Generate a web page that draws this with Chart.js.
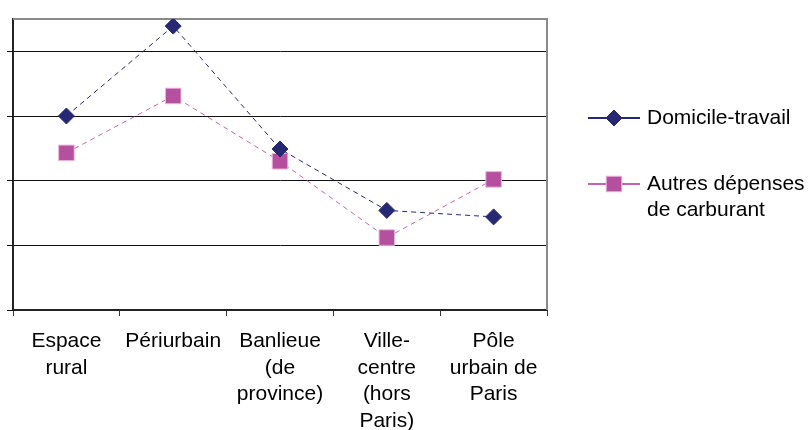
<!DOCTYPE html>
<html>
<head>
<meta charset="utf-8">
<script src="https://cdn.jsdelivr.net/npm/chart.js@4/dist/chart.umd.min.js"></script>
<style>
  html, body { margin: 0; padding: 0; background: #fff; }
  #wrap { width: 808px; height: 430px; position: relative; }
</style>
</head>
<body>
<div id="wrap"><canvas id="chart" width="808" height="430"></canvas></div>
<script>
// Categories (multi-line labels as drawn under the axis)
const categories = [
    ['Espace', 'rural'],
    ['Périurbain'],
    ['Banlieue', '(de', 'province)'],
    ['Ville-', 'centre', '(hors', 'Paris)'],
    ['Pôle', 'urbain de', 'Paris']
];

// Series values
const domicileTravail = [3.0, 4.39, 2.49, 1.54, 1.44];
const autresDepenses = [2.43, 3.31, 2.30, 1.12, 2.02];

const seriesNames = ['Domicile-travail', ['Autres dépenses', 'de carburant']];
const yTicks = [0, 1, 2, 3, 4];

const navy = '#272873';
const magenta = '#B5509F';

// Legend drawn on the right, outside the plot area
const sideLegend = {
    id: 'sideLegend',
    afterDraw(chart) {
        const ctx = chart.ctx;
        const rows = [
            { y: 118, ds: chart.data.datasets[0], text: seriesNames[0] },
            { y: 184, ds: chart.data.datasets[1], text: seriesNames[1] }
        ];
        ctx.save();
        rows.forEach(row => {
            ctx.strokeStyle = row.ds.borderColor;
            ctx.lineWidth = 2;
            ctx.setLineDash([]);
            ctx.beginPath();
            ctx.moveTo(588, row.y);
            ctx.lineTo(640, row.y);
            ctx.stroke();
            ctx.fillStyle = row.ds.pointBackgroundColor;
            ctx.strokeStyle = row.ds.pointBorderColor;
            ctx.lineWidth = 1;
            Chart.helpers.drawPoint(ctx, {
                pointStyle: row.ds.pointStyle,
                radius: row.ds.pointRadius,
                borderWidth: 1
            }, 614, row.y);
            ctx.fillStyle = '#000';
            ctx.font = '21px "Liberation Sans", Arial, sans-serif';
            ctx.textBaseline = 'middle';
            const lines = Array.isArray(row.text) ? row.text : [row.text];
            lines.forEach((t, i) => ctx.fillText(t, 647, row.y + i * 26));
        });
        ctx.restore();
    }
};

// Gray frame on top and right of the plot area
const plotFrame = {
    id: 'plotFrame',
    beforeDatasetsDraw(chart) {
        const a = chart.chartArea;
        const ctx = chart.ctx;
        ctx.save();
        ctx.strokeStyle = '#8a8a8a';
        ctx.lineWidth = 2;
        ctx.beginPath();
        ctx.moveTo(a.left, a.top);
        ctx.lineTo(a.right, a.top);
        ctx.lineTo(a.right, a.bottom);
        ctx.stroke();
        ctx.restore();
    }
};

new Chart(document.getElementById('chart').getContext('2d'), {
    type: 'line',
    data: {
        labels: categories,
        datasets: [{
            label: 'Domicile-travail',
            data: domicileTravail,
            borderColor: navy,
            borderWidth: 1,
            borderDash: [5, 4],
            pointStyle: 'rectRot',
            pointRadius: 8,
            pointHoverRadius: 8,
            pointBackgroundColor: navy,
            pointBorderColor: navy,
            pointBorderWidth: 1,
            fill: false,
            tension: 0
        }, {
            label: 'Autres dépenses de carburant',
            data: autresDepenses,
            borderColor: '#C464B2',
            borderWidth: 1,
            borderDash: [5, 4],
            pointStyle: 'rect',
            pointRadius: 11,
            pointHoverRadius: 11,
            pointBackgroundColor: magenta,
            pointBorderColor: '#E9B6DE',
            pointBorderWidth: 1,
            fill: false,
            tension: 0
        }]
    },
    options: {
        responsive: false,
        animation: false,
        events: [],
        layout: { padding: { left: 0, top: 19, right: 261, bottom: 0 } },
        plugins: {
            legend: { display: false },
            tooltip: { enabled: false }
        },
        scales: {
            x: {
                offset: true,
                grid: {
                    offset: true,
                    drawOnChartArea: false,
                    drawTicks: true,
                    tickLength: 6,
                    color: '#333'
                },
                border: { color: '#222', width: 2 },
                ticks: {
                    autoSkip: false,
                    maxRotation: 0,
                    minRotation: 0,
                    padding: 12,
                    color: '#000',
                    font: { family: '"Liberation Sans", Arial, sans-serif', size: 21, lineHeight: 1.27 }
                },
                afterFit(scale) { scale.height = 120; }
            },
            y: {
                min: 0,
                max: 4.5,
                ticks: { display: false, stepSize: 1 },
                afterBuildTicks(scale) {
                    scale.ticks = yTicks.map(v => ({ value: v }));
                },
                grid: {
                    color: '#111',
                    lineWidth: 1,
                    drawTicks: true,
                    tickLength: 6
                },
                border: { color: '#222', width: 2 },
                afterFit(scale) { scale.width = 13; }
            }
        }
    },
    plugins: [plotFrame, sideLegend]
});
</script>
</body>
</html>
